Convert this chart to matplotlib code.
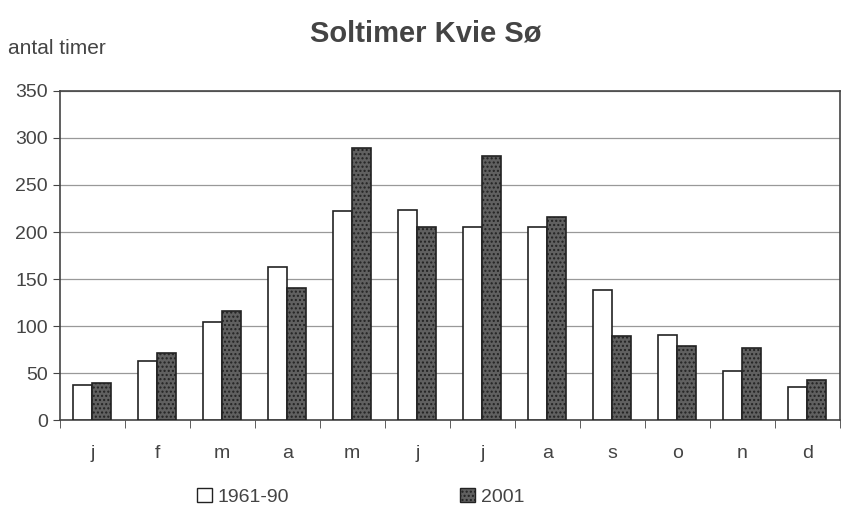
import numpy as np
import matplotlib.pyplot as plt
from matplotlib.patches import Patch

plt.rcParams['font.family'] = ['Liberation Sans', 'DejaVu Sans']
plt.rcParams['hatch.color'] = '#8a8a8a'

# ── data ──────────────────────────────────────────────────────────────
months = ['j', 'f', 'm', 'a', 'm', 'j', 'j', 'a', 's', 'o', 'n', 'd']
normal_6190 = [37, 63, 104, 163, 222, 223, 205, 205, 138, 90, 52, 35]
year_2001 = [39, 71, 116, 140, 289, 205, 281, 216, 89, 79, 77, 43]

# ── plot ──────────────────────────────────────────────────────────────
fig = plt.figure(figsize=(8.43, 5.08), dpi=100)
ax = fig.add_axes([0.071, 0.173, 0.925, 0.648])

x = np.arange(len(months))
w = 0.29
ax.bar(x - w / 2, normal_6190, w, color='white', edgecolor='#222222',
       lw=1.2, zorder=3)
ax.bar(x + w / 2, year_2001, w, color='#606060', edgecolor='#222222',
       lw=1.2, hatch='....', zorder=3)

ax.set_xlim(-0.5, len(months) - 0.5)
ax.set_ylim(0, 350)
ax.set_yticks(range(0, 351, 50))
ax.set_xticks(x)
ax.set_xticklabels(months)
ax.set_xticks(np.arange(-0.5, len(months), 1), minor=True)
ax.tick_params(axis='x', which='major', length=0, pad=18, labelsize=14,
               colors='#444444')
ax.tick_params(axis='x', which='minor', length=6, direction='out',
               color='#444444')
ax.tick_params(axis='y', length=5, direction='out', labelsize=14,
               colors='#444444', color='#444444')
ax.yaxis.grid(True, color='#999999', lw=0.9, zorder=0)
for s in ax.spines.values():
    s.set_color('#444444')
    s.set_linewidth(1.2)

fig.text(0.505, 0.935, 'Soltimer Kvie Sø', ha='center', va='center',
         fontsize=21, fontweight='bold', color='#444444')
fig.text(0.01, 0.905, 'antal timer', ha='left', va='center',
         fontsize=15, color='#444444')

handles = [Patch(facecolor='white', edgecolor='#222222', lw=1),
           Patch(facecolor='#606060', edgecolor='#222222', lw=1,
                 hatch='....')]
fig.legend(handles, ['1961-90', '2001'], loc='center left',
           bbox_to_anchor=(0.213, 0.022), ncol=2, frameon=False,
           fontsize=14, handlelength=0.75, handleheight=0.75,
           handletextpad=0.3, columnspacing=8.8, labelcolor='#444444')

fig.savefig('out.png', dpi=100)
